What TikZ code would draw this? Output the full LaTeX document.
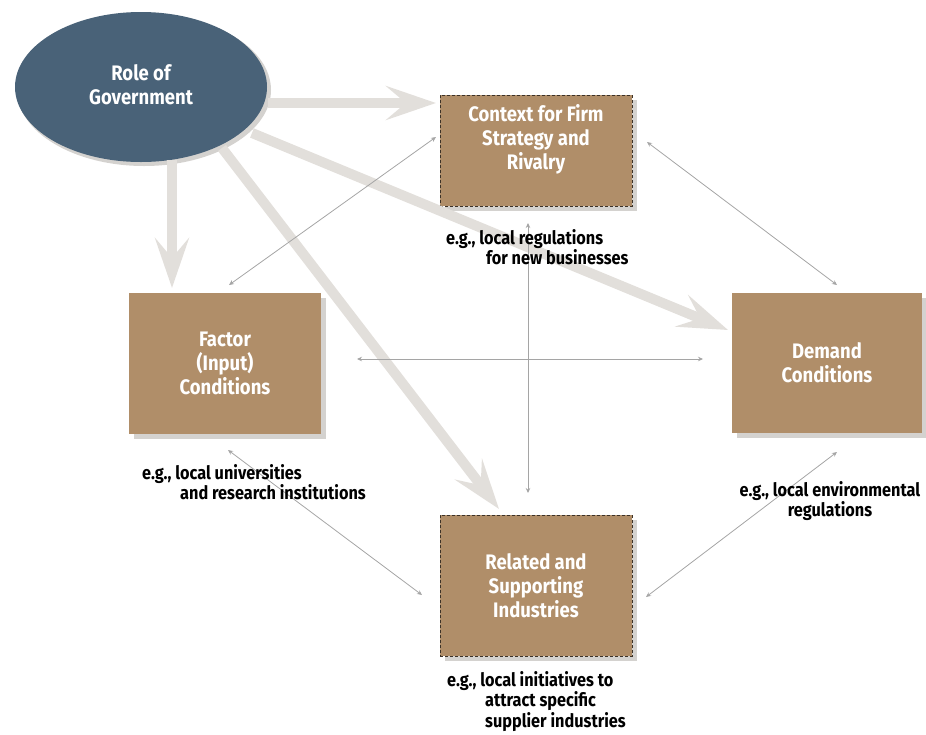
\documentclass[tikz,border=0pt]{standalone}
\usepackage{fontspec}
\setmainfont{Fira Sans}[FakeStretch=0.88]
\usetikzlibrary{arrows.meta,shapes.geometric}

\definecolor{boxbrown}{RGB}{176,142,105}
\definecolor{govblue}{RGB}{73,98,120}
\definecolor{flowgray}{RGB}{226,223,219}
\definecolor{linkgray}{RGB}{165,165,165}
\definecolor{shadowgray}{RGB}{212,210,207}
\definecolor{edgedark}{RGB}{60,50,40}

\tikzset{
  force/.style={flowgray, line width=10pt,
    -{Stealth[length=50pt, width=34pt, inset=20pt]}},
  link/.style={linkgray, line width=0.8pt,
    {Stealth[length=5pt, width=4.5pt]}-{Stealth[length=5pt, width=4.5pt]}},
  boxfill/.style={rectangle, fill=boxbrown, inner sep=0pt},
  dashbox/.style={boxfill, draw=edgedark, densely dashed, line width=0.6pt},
  boxshadow/.style={fill=shadowgray},
  boxtext/.style={text=white, align=center, font=\bfseries\fontsize{21}{24}\selectfont},
  note/.style={align=left, anchor=north west, inner sep=0pt,
    font=\bfseries\fontsize{18.5}{20.5}\selectfont}
}

\begin{document}
\begin{tikzpicture}[x=1pt, y=-1pt]
\useasboundingbox (0,0) rectangle (926,734);

% box shadows
\fill[boxshadow] (445,100) rectangle (637,211);
\fill[boxshadow] (134,298) rectangle (326,439);
\fill[boxshadow] (737,298) rectangle (926,438);
\fill[boxshadow] (445,520) rectangle (637,661);

% the four determinants
\node[dashbox, minimum width=192pt, minimum height=111pt] (ctx) at (536,150.5) {};
\node[boxfill, minimum width=192pt, minimum height=141pt] (fac) at (225,363.5) {};
\node[boxfill, minimum width=190pt, minimum height=140pt] (dem) at (827,363) {};
\node[dashbox, minimum width=192pt, minimum height=141pt] (rel) at (536,585.5) {};

% government
\fill[shadowgray] (144,90) ellipse [x radius=127pt, y radius=76pt];
\node[ellipse, fill=govblue, minimum width=252pt, minimum height=150pt, inner sep=0pt] (gov) at (141,87) {};

% anchor points of the links
\coordinate (ctxW) at (436,137);
\coordinate (ctxE) at (647,142);
\coordinate (ctxS) at (528,223);
\coordinate (facN) at (229,285);
\coordinate (facE) at (357,359);
\coordinate (facS) at (228,450);
\coordinate (demN) at (837,285);
\coordinate (demW) at (703,359);
\coordinate (demS) at (837,452);
\coordinate (relN) at (528,493);
\coordinate (relW) at (422,595);
\coordinate (relE) at (646,597);

% government influence
\coordinate (govE) at (268,103);
\coordinate (govS) at (172,160);
\coordinate (govSE) at (252,133);
\coordinate (govSSE) at (222,148);
\coordinate (toCtx) at (436,103);
\coordinate (toFac) at (172,288);
\coordinate (toDem) at (728,330);
\coordinate (toRel) at (499,509);
\draw[force] (govE) -- (toCtx);
\draw[force] (govS) -- (toFac);
\draw[force] (govSE) -- (toDem);
\draw[force] (govSSE) -- (toRel);

% links between determinants
\draw[link] (ctxW) -- (facN);
\draw[link] (ctxE) -- (demN);
\draw[link] (ctxS) -- (relN);
\draw[link] (facE) -- (demW);
\draw[link] (facS) -- (relW);
\draw[link] (demS) -- (relE);

% labels
\node[boxtext] (govtext) at (141,85) {Role of\\Government};
\node[boxtext] (ctxtext) at (536,139) {Context for Firm\\Strategy and\\Rivalry};
\node[boxtext] (factext) at (fac) {Factor\\(Input)\\Conditions};
\node[boxtext] (demtext) at (dem) {Demand\\Conditions};
\node[boxtext] (reltext) at (rel) {Related and\\Supporting\\Industries};

% policy examples
\node[note] (ctxnote) at (446,229) {e.g., local regulations\\\hspace*{40pt}for new businesses};
\node[note] (facnote) at (142,464) {e.g., local universities\\\hspace*{38pt}and research institutions};
\node[note, align=center, anchor=north] (demnote) at (830,481) {e.g., local environmental\\regulations};
\node[note] (relnote) at (447,671) {e.g., local initiatives to\\\hspace*{38pt}attract specific\\\hspace*{38pt}supplier industries};
\end{tikzpicture}
\end{document}
